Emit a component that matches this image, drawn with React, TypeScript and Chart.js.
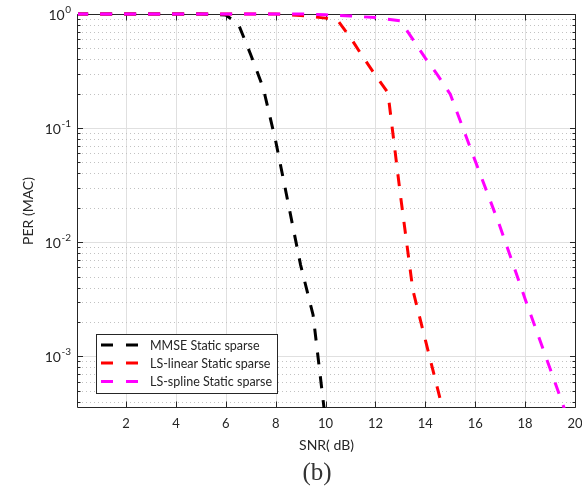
import React, { useEffect, useRef } from "react";
import { Chart, registerables } from "chart.js";

Chart.register(...registerables);

// ---- data ----
const mmseSnr = [0, 1, 2, 3, 4, 5, 6, 6.5, 7, 7.5, 8, 9, 9.5, 10];
const mmsePer = [1, 1, 1, 1, 1, 1, 0.98, 0.82, 0.44, 0.225, 0.077, 0.0063, 0.0023, 0.00027];

const linSnr = [0, 1, 2, 3, 4, 5, 6, 7, 8, 9, 10, 10.5, 11, 11.5, 12, 12.5, 13, 13.5, 14, 14.5, 15];
const linPer = [1, 1, 1, 1, 1, 1, 1, 1, 1, 0.97, 0.92, 0.87, 0.62, 0.42, 0.29, 0.204, 0.026, 0.0038, 0.00139, 0.00051, 0.000185];

const splSnr = [0, 1, 2, 3, 4, 5, 6, 7, 8, 9, 10, 11, 12, 13, 13.5, 14, 14.5, 15, 16, 17, 18, 19, 20];
const splPer = [1, 1, 1, 1, 1, 1, 1, 1, 1, 1, 0.985, 0.96, 0.93, 0.87, 0.6, 0.41, 0.29, 0.198, 0.0516, 0.0136, 0.00318, 0.00078, 0.00019];

const seriesNames = ["MMSE Static sparse", "LS-linear Static sparse", "LS-spline Static sparse"];
const seriesColors = ["#000000", "#ff0000", "#ff00ff"];

const xTickValues = [2, 4, 6, 8, 10, 12, 14, 16, 18, 20];
const yDecadeExps = [0, -1, -2, -3];

const xLabel = "SNR( dB)";
const yLabel = "PER (MAC)";
const caption = "(b)";

const X_MIN = 0.075;
const X_MAX = 20;
const Y_MIN = 3.52e-4;
const Y_MAX = 1;

const SANS = "Lato, 'Open Sans', sans-serif";

function toPoints(xs: number[], ys: number[]) {
  return xs.map((x, i) => ({ x, y: ys[i] }));
}

export default function App() {
  const ref = useRef<HTMLCanvasElement>(null);

  useEffect(() => {
    const canvas = ref.current!;

    const decor = {
      id: "decor",
      beforeDatasetsDraw(chart: any) {
        const { ctx, chartArea: a, scales } = chart;
        const xs = scales.x;
        const ys = scales.y;
        ctx.save();
        // major grid
        ctx.strokeStyle = "#e0e0e0";
        ctx.lineWidth = 1;
        ctx.beginPath();
        for (const v of xTickValues) {
          if (v >= X_MAX) continue;
          const px = Math.round(xs.getPixelForValue(v)) + 0.5;
          ctx.moveTo(px, a.top);
          ctx.lineTo(px, a.bottom);
        }
        for (const e of yDecadeExps) {
          if (e === 0) continue;
          const py = Math.round(ys.getPixelForValue(Math.pow(10, e))) + 0.5;
          ctx.moveTo(a.left, py);
          ctx.lineTo(a.right, py);
        }
        ctx.stroke();
        // minor dotted grid
        ctx.setLineDash([1, 3]);
        ctx.strokeStyle = "#c2c2c2";
        ctx.beginPath();
        for (let e = -4; e <= -1; e++) {
          for (let k = 2; k <= 9; k++) {
            const v = k * Math.pow(10, e);
            if (v <= Y_MIN || v >= Y_MAX) continue;
            const py = Math.round(ys.getPixelForValue(v)) + 0.5;
            ctx.moveTo(a.left, py);
            ctx.lineTo(a.right, py);
          }
        }
        ctx.stroke();

        // axes box and tick marks (under the data, like MATLAB's bottom layer)
        const L = Math.round(a.left) - 0.5;
        const R = Math.round(a.right) + 0.5;
        const T = Math.round(a.top) + 0.5;
        const B = Math.round(a.bottom) - 0.5;
        ctx.strokeStyle = "#262626";
        ctx.lineWidth = 1;
        ctx.setLineDash([]);
        ctx.beginPath();
        ctx.rect(L, T, R - L, B - T);
        for (const v of xTickValues) {
          const px = Math.round(xs.getPixelForValue(v)) + 0.5;
          ctx.moveTo(px, B);
          ctx.lineTo(px, B - 6);
          ctx.moveTo(px, T);
          ctx.lineTo(px, T + 6);
        }
        for (const e of yDecadeExps) {
          const py = Math.round(ys.getPixelForValue(Math.pow(10, e))) + 0.5;
          ctx.moveTo(L, py);
          ctx.lineTo(L + 5.5, py);
          ctx.moveTo(R, py);
          ctx.lineTo(R - 5.5, py);
        }
        for (let e = -4; e <= -1; e++) {
          for (let k = 2; k <= 9; k++) {
            const v = k * Math.pow(10, e);
            if (v <= Y_MIN || v >= Y_MAX) continue;
            const py = Math.round(ys.getPixelForValue(v)) + 0.5;
            ctx.moveTo(L, py);
            ctx.lineTo(L + 3, py);
            ctx.moveTo(R, py);
            ctx.lineTo(R - 3, py);
          }
        }
        ctx.stroke();
        ctx.restore();
      },
      afterDatasetsDraw(chart: any) {
        const { ctx, chartArea: a, scales } = chart;
        const xs = scales.x;
        const ys = scales.y;
        ctx.save();

        // x tick labels
        ctx.fillStyle = "#262626";
        ctx.font = `13px ${SANS}`;
        ctx.textAlign = "center";
        ctx.textBaseline = "alphabetic";
        for (const v of xTickValues) {
          const px = xs.getPixelForValue(v);
          ctx.fillText(String(v), px, 428);
        }
        // y tick labels with superscripts
        for (const e of yDecadeExps) {
          const py = ys.getPixelForValue(Math.pow(10, e));
          const expStr = String(e);
          ctx.font = `10px ${SANS}`;
          const ew = ctx.measureText(expStr).width;
          ctx.textAlign = "left";
          const right = 71;
          ctx.fillText(expStr, right - ew, py - 1);
          ctx.font = `14px ${SANS}`;
          ctx.textAlign = "right";
          ctx.fillText("10", right - ew - 0.5, py + 6);
        }

        // axis titles
        ctx.font = `14px ${SANS}`;
        ctx.textAlign = "center";
        ctx.fillText(xLabel, (a.left + a.right) / 2, 450);
        ctx.save();
        ctx.translate(33, (a.top + a.bottom) / 2);
        ctx.rotate(-Math.PI / 2);
        ctx.fillText(yLabel, 0, 0);
        ctx.restore();

        // caption
        ctx.font = `25px 'Liberation Serif', serif`;
        ctx.fillStyle = "#333";
        ctx.fillText(caption, 317, 480);

        // legend
        const bx = 96.5, by = 334.5, bw = 181, bh = 59;
        ctx.fillStyle = "#ffffff";
        ctx.fillRect(bx, by, bw, bh);
        ctx.strokeStyle = "#262626";
        ctx.lineWidth = 1;
        ctx.strokeRect(bx, by, bw, bh);
        const rows = [345, 363, 381.5];
        for (let i = 0; i < seriesNames.length; i++) {
          const ry = rows[i];
          ctx.strokeStyle = seriesColors[i];
          ctx.lineWidth = 3;
          ctx.setLineDash([12, 13]);
          ctx.beginPath();
          ctx.moveTo(101, ry);
          ctx.lineTo(138, ry);
          ctx.stroke();
          ctx.setLineDash([]);
          ctx.fillStyle = "#262626";
          ctx.font = `12.5px ${SANS}`;
          ctx.textAlign = "left";
          ctx.textBaseline = "middle";
          ctx.fillText(seriesNames[i], 150, ry + 0.5);
        }
        ctx.restore();
      },
    };

    const mk = (i: number, xsArr: number[], ysArr: number[], order: number) => ({
      label: seriesNames[i],
      data: toPoints(xsArr, ysArr),
      borderColor: seriesColors[i],
      backgroundColor: seriesColors[i],
      borderWidth: 3,
      borderDash: [12, 12],
      pointRadius: 0,
      tension: 0,
      fill: false,
      order,
      clip: { left: 0, top: 4, right: 0, bottom: 0 },
    });

    const chart = new Chart(canvas, {
      type: "line",
      data: {
        datasets: [
          mk(0, mmseSnr, mmsePer, 2),
          mk(1, linSnr, linPer, 1),
          mk(2, splSnr, splPer, 0),
        ],
      },
      options: {
        animation: false,
        responsive: false,
        devicePixelRatio: 1,
        layout: { padding: { left: 78, top: 14, right: 7, bottom: 79 } },
        plugins: { legend: { display: false }, tooltip: { enabled: false } },
        scales: {
          x: { type: "linear", min: X_MIN, max: X_MAX, display: false },
          y: { type: "logarithmic", min: Y_MIN, max: Y_MAX, display: false },
        },
      },
      plugins: [decor],
    } as any);

    return () => chart.destroy();
  }, []);

  return (
    <div style={{ position: "fixed", left: 0, top: 0, width: 582, height: 487, background: "#ffffff" }}>
      <canvas ref={ref} width={582} height={487} style={{ display: "block" }} />
    </div>
  );
}
